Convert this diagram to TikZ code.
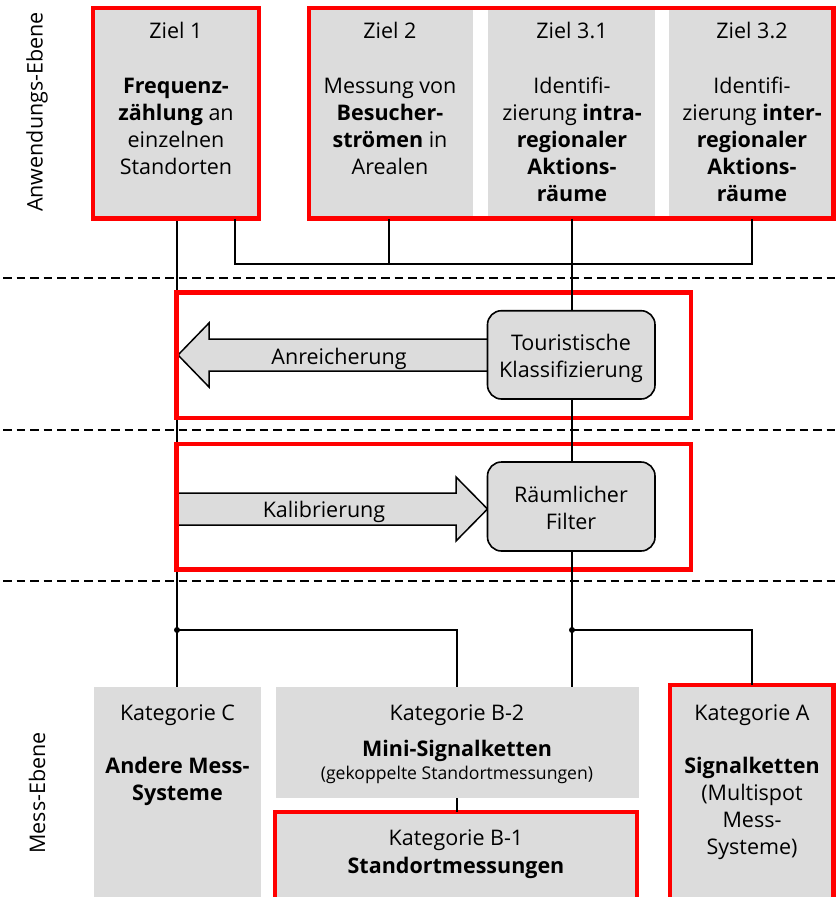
\documentclass[tikz,border=0pt]{standalone}
\usepackage{fontspec}
\setmainfont{Open Sans}
\definecolor{boxgray}{RGB}{220,220,220}
\definecolor{redline}{RGB}{255,0,0}
\begin{document}
\begin{tikzpicture}[x=1pt,y=-1pt,
  gbox/.style={fill=boxgray, draw=none, inner sep=0pt, outer sep=0pt, anchor=north west},
  redfr/.style={draw=redline, line width=4.2pt, inner sep=0pt, outer sep=0pt, anchor=north west},
  conn/.style={draw=black, line width=1.8pt},
  sepline/.style={draw=black, line width=1.8pt, dash pattern=on 8.5pt off 5pt, dash phase=-3pt},
  txt/.style={font=\fontsize{21.5}{27}\selectfont, align=center, inner sep=0pt, anchor=base},
  smalltxt/.style={font=\fontsize{17.6}{22}\selectfont, inner sep=0pt, anchor=base},
  rbox/.style={fill=boxgray, draw=black, line width=1.6pt, rounded corners=14pt, inner sep=0pt, outer sep=0pt, anchor=north west},
  arr/.style={fill=boxgray, draw=black, line width=1.5pt, line join=miter},
  jdot/.style={circle, fill=black, inner sep=0pt, minimum size=6pt}
]
\useasboundingbox (0,0) rectangle (836,897);

% separators
\coordinate (s1a) at (0,278); \coordinate (s1b) at (836,278);
\coordinate (s2a) at (0,430); \coordinate (s2b) at (836,430);
\coordinate (s3a) at (0,581); \coordinate (s3b) at (836,581);
\draw[sepline] (s1a) -- (s1b);
\draw[sepline] (s2a) -- (s2b);
\draw[sepline] (s3a) -- (s3b);

% level labels
\node[font=\fontsize{21.5}{24}\selectfont, rotate=90, inner sep=0pt] (lvl1) at (37,112) {Anwendungs-Ebene};
\node[font=\fontsize{21.5}{24}\selectfont, rotate=90, inner sep=0pt] (lvl2) at (37,793) {Mess-Ebene};

% top boxes
\node[gbox, minimum width=166pt, minimum height=210.5pt] (z1) at (93,8) {};
\node[gbox, minimum width=164pt, minimum height=210.5pt] (z2) at (309,8) {};
\node[gbox, minimum width=167pt, minimum height=210.5pt] (z31) at (488,8) {};
\node[gbox, minimum width=164.5pt, minimum height=210.5pt] (z32) at (669,8) {};

% bottom boxes
\node[gbox, minimum width=167pt, minimum height=215pt] (katC) at (94,687) {};
\node[gbox, minimum width=363pt, minimum height=111pt] (b2) at (275.5,687) {};
\node[gbox, minimum width=362.6pt, minimum height=92pt] (b1) at (274.7,812) {};
\node[gbox, minimum width=163.2pt, minimum height=220pt] (katA) at (670.3,684.7) {};

% connectors
\coordinate (t1) at (235,264);
\coordinate (j1) at (177,630);
\coordinate (j2) at (572,630);
\coordinate (c32) at (752,264);
\draw[conn] (z1.south -| j1) -- (katC.north -| j1);

% arrows
\coordinate (anrTip) at (178,355);
\coordinate (kalStart) at (177,509);
\draw[arr] (anrTip) -- (209,323) -- (209,339) -- (488,339) -- (488,371) -- (209,371) -- (209,387) -- cycle;
\draw[arr] (kalStart |- 0,493) -- (456,493) -- (456,477) -- (487.5,509) -- (456,541) -- (456,525) -- (kalStart |- 0,525) -- cycle;

% red frames
\node[redfr, minimum width=166pt, minimum height=210.5pt] (z1f) at (93,8) {};
\node[redfr, minimum width=524.5pt, minimum height=210.5pt] (zg) at (309,8) {};
\node[redfr, minimum width=514.5pt, minimum height=125.2pt] (rf1) at (176.5,292.5) {};
\node[redfr, minimum width=514.5pt, minimum height=125.8pt] (rf2) at (176.5,443.7) {};
\node[redfr, minimum width=362.6pt, minimum height=92pt] (b1f) at (274.7,812) {};
\node[redfr, minimum width=163.2pt, minimum height=220pt] (katAf) at (670.3,684.7) {};

% process boxes
\node[rbox, minimum width=167.5pt, minimum height=88.3pt] (tour) at (487.5,310.7) {};
\node[rbox, minimum width=167.5pt, minimum height=89pt] (rfil) at (487.5,462) {};

% remaining connectors
\draw[conn] (t1 |- z1.south) -- (t1) -- (c32) -- (z32.south -| c32);
\draw[conn] (z2.south -| 389,0) -- (389,264);
\draw[conn] (z31.south -| j2) -- (tour.north -| j2);
\draw[conn] (tour.south -| j2) -- (rfil.north -| j2);
\draw[conn] (rfil.south -| j2) -- (b2.north -| j2);
\draw[conn] (j1) -| (b2.north);
\draw[conn] (b2.south) -- (b2.south |- b1f.north);
\draw[conn] (j2) -| (katAf.north -| c32);
\node[jdot] (d1) at (j1) {};
\node[jdot] (d2) at (j2) {};

% texts top (anchor base = last line)
\node[txt] (z1t) at (176,38) {Ziel 1};
\node[txt] (z1b) at (176,174) {\textbf{Frequenz-}\\\textbf{zählung} an\\einzelnen\\Standorten};
\node[txt] (z2t) at (390,38) {Ziel 2};
\node[txt] (z2b) at (390,174) {Messung von\\\textbf{Besucher-}\\\textbf{strömen} in\\Arealen};
\node[txt] (z31t) at (572,38) {Ziel 3.1};
\node[txt] (z31b) at (572,201) {Identifi-\\zierung \textbf{intra-}\\\textbf{regionaler}\\\textbf{Aktions-}\\\textbf{räume}};
\node[txt] (z32t) at (752,38) {Ziel 3.2};
\node[txt] (z32b) at (752,201) {Identifi-\\zierung \textbf{inter-}\\\textbf{regionaler}\\\textbf{Aktions-}\\\textbf{räume}};

% middle texts
\node[txt] (anrt) at (339,364) {Anreicherung};
\node[txt] (tourt) at (571,377) {Touristische\\Klassifizierung};
\node[txt] (kalt) at (324,517) {Kalibrierung};
\node[txt] (rfilt) at (571,529) {Räumlicher\\Filter};

% bottom texts
\node[txt] (katCt) at (177.5,720) {Kategorie C};
\node[txt] (katCb) at (177.5,800) {\textbf{Andere Mess-}\\\textbf{Systeme}};
\node[txt] (b2t) at (457,720) {Kategorie B-2};
\node[txt] (b2b) at (457,756) {\textbf{Mini-Signalketten}};
\node[smalltxt] (b2s) at (457,779) {(gekoppelte Standortmessungen)};
\node[txt] (b1t) at (456,873) {Kategorie B-1\\[1pt]\textbf{Standortmessungen}};
\node[txt] (katAt) at (752,720) {Kategorie A};
\node[txt] (katAb) at (752,854) {\textbf{Signalketten}\\(Multispot\\Mess-\\Systeme)};
\end{tikzpicture}
\end{document}
